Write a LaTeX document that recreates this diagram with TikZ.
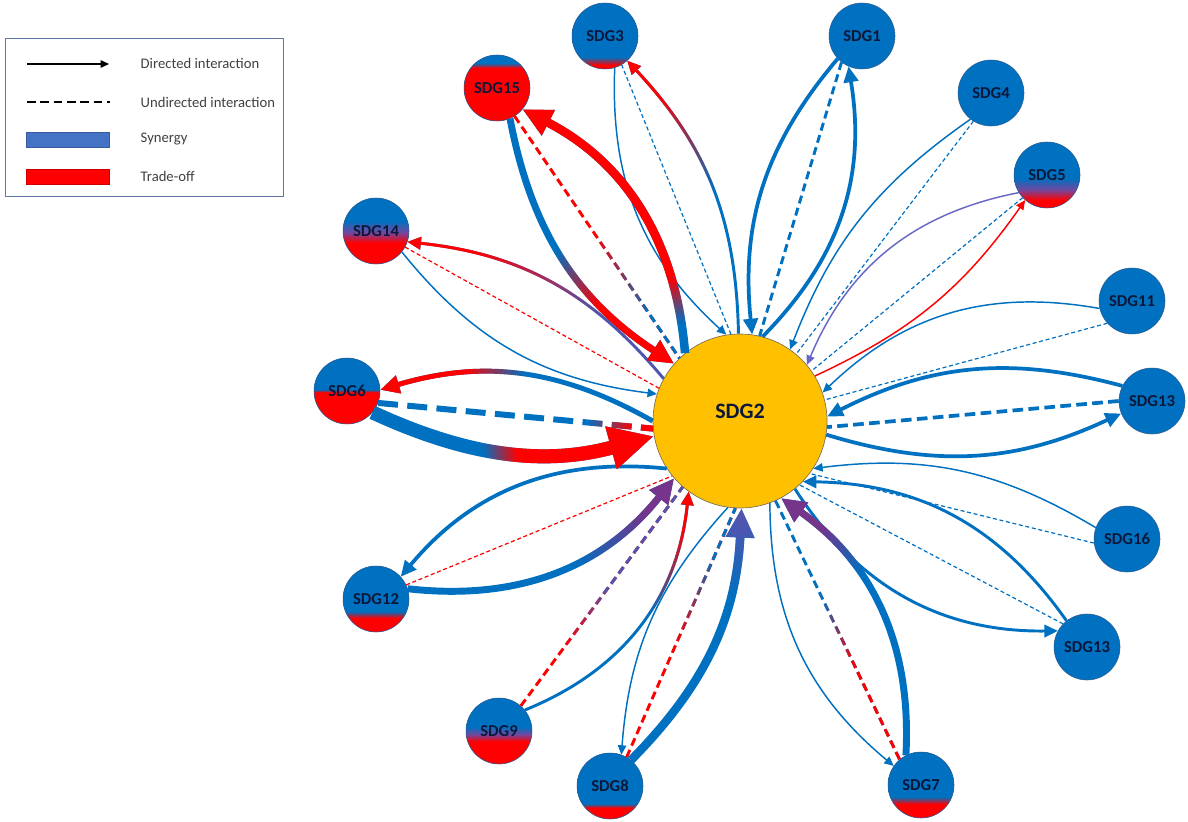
\documentclass[tikz,border=0pt]{standalone}
\usepackage{fontspec}
\setmainfont{Carlito}
\usepackage{tikz}
\usetikzlibrary{arrows.meta,fadings}

\definecolor{sblue}{RGB}{0,112,192}
\definecolor{sred}{RGB}{255,0,0}
\definecolor{sgold}{RGB}{255,192,0}
\definecolor{spurple}{RGB}{118,52,138}
\definecolor{smid}{RGB}{112,72,160}
\definecolor{sindigo}{RGB}{78,86,176}
\definecolor{slav}{RGB}{104,104,196}
\definecolor{snavy}{RGB}{12,24,58}
\definecolor{sedge}{RGB}{46,92,146}
\definecolor{score}{RGB}{120,110,90}
\definecolor{skey}{RGB}{68,114,196}
\definecolor{sframe}{RGB}{96,118,166}
\definecolor{sgrey}{RGB}{64,64,64}

\pgfdeclareverticalshading{mix3}{100bp}{color(0bp)=(sred); color(28bp)=(sred); color(34bp)=(sblue); color(100bp)=(sblue)}
\pgfdeclareverticalshading{mix5}{100bp}{color(0bp)=(sred); color(31bp)=(sred); color(39bp)=(smid); color(47.5bp)=(sblue); color(100bp)=(sblue)}
\pgfdeclareverticalshading{mix6}{100bp}{color(0bp)=(sred); color(49bp)=(sred); color(51bp)=(sblue); color(100bp)=(sblue)}
\pgfdeclareverticalshading{mix7}{100bp}{color(0bp)=(sred); color(35.5bp)=(sred); color(41bp)=(sblue); color(100bp)=(sblue)}
\pgfdeclareverticalshading{mix8}{100bp}{color(0bp)=(sred); color(33.5bp)=(sred); color(36.5bp)=(sblue); color(100bp)=(sblue)}
\pgfdeclareverticalshading{mix9}{100bp}{color(0bp)=(sred); color(42bp)=(sred); color(47.5bp)=(smid); color(53bp)=(sblue); color(100bp)=(sblue)}
\pgfdeclareverticalshading{mix12}{100bp}{color(0bp)=(sred); color(35.5bp)=(sred); color(40.5bp)=(sblue); color(100bp)=(sblue)}
\pgfdeclareverticalshading{mix14}{100bp}{color(0bp)=(sred); color(41bp)=(sred); color(49bp)=(smid); color(57.5bp)=(sblue); color(100bp)=(sblue)}
\pgfdeclareverticalshading{mix15}{100bp}{color(0bp)=(sred); color(65bp)=(sred); color(68.75bp)=(sblue); color(100bp)=(sblue)}

\begin{tikzfadingfrompicture}[name=cut]
  \path (-12,-12) rectangle (12,12);
  \shade[left color=transparent!100,right color=transparent!0] (-1,-12) rectangle (1,12);
  \fill[transparent!0] (1,-12) rectangle (12,12);
\end{tikzfadingfrompicture}

\begin{document}
\begin{tikzpicture}[x=0.75pt,y=-0.75pt,>={Triangle[length=4pt 2.8,width=3.5pt 2.6]},
  goal/.style={circle,minimum size=49.5pt,inner sep=0pt,draw=sedge,line width=0.4pt,fill=sblue,text=snavy,font=\bfseries\fontsize{12.5}{14}\selectfont},
  mixed/.style={goal,shade,shading=#1},
  core/.style={font=\bfseries\fontsize{16.5}{18}\selectfont,text=snavy,yshift=7.5pt},
  l1/.style={line width=1.1pt},
  l2/.style={line width=2.2pt},
  l3/.style={line width=2.8pt},
  l4/.style={line width=3.7pt},
  l5/.style={line width=5.2pt},
  l6/.style={line width=6.4pt},
  l8/.style={line width=10.5pt},
  d1/.style={line width=0.9pt,dash pattern=on 3pt off 2pt},
  d2/.style={line width=2.2pt,dash pattern=on 6pt off 3.5pt},
  d3/.style={line width=2.8pt,dash pattern=on 8pt off 4pt},
  d4/.style={line width=4.5pt,dash pattern=on 15pt off 7pt},
  fadeat/.style n args={3}{path fading=cut,fit fading=false,fading transform={shift={#1},rotate=#2,xscale=#3}},
  keytext/.style={anchor=west,text=sgrey,font=\fontsize{11}{13}\selectfont},
  swatch/.style={minimum width=62pt,minimum height=11pt,inner sep=0pt,line width=0.4pt}]
   \useasboundingbox (0,0) rectangle (1188,821);

   % legend
   \node[draw=sframe,line width=0.6pt,minimum width=208.5pt,minimum height=118.5pt,inner sep=0pt] (key) at (144,117) {};
   \coordinate (a1) at (27,64);
   \coordinate (a2) at (109,64);
   \coordinate (b1) at (27,102);
   \coordinate (b2) at (110,102);
   \draw[->,line width=0.8pt] (a1) -- (a2);
   \draw[line width=0.9pt,dash pattern=on 6.5pt off 3.5pt] (b1) -- (b2);
   \node[swatch,fill=skey,draw=skey!80!black] (syn) at (68,140) {};
   \node[swatch,fill=sred,draw=sred!80!black] (tro) at (68,177) {};
   \node[keytext] (t1) at (136,63) {Directed interaction};
   \node[keytext] (t2) at (136,102) {Undirected interaction};
   \node[keytext] (t3) at (136,139) {Synergy};
   \node[keytext] (t4) at (136,176) {Trade-off};

   \node[circle,minimum size=130.5pt,inner sep=0pt,fill=sgold,draw=score,line width=0.5pt,label={[core]center:SDG2}] (c) at (740,421) {};
   \node[mixed=mix3] (s3) at (605,36) {SDG3};
   \node[goal] (s1) at (862,36) {SDG1};
   \node[goal] (s4) at (991,93) {SDG4};
   \node[mixed=mix5] (s5) at (1047,175) {SDG5};
   \node[goal] (s11) at (1132,301) {SDG11};
   \node[goal] (s13a) at (1152,401) {SDG13};
   \node[goal] (s16) at (1127,539) {SDG16};
   \node[goal] (s13b) at (1087,647) {SDG13};
   \node[mixed=mix7] (s7) at (921,785) {SDG7};
   \node[mixed=mix8] (s8) at (610,786) {SDG8};
   \node[mixed=mix9] (s9) at (499,731) {SDG9};
   \node[mixed=mix12] (s12) at (376,599) {SDG12};
   \node[mixed=mix6] (s6) at (347,391) {SDG6};
   \node[mixed=mix14] (s14) at (376,231) {SDG14};
   \node[mixed=mix15] (s15) at (497,88) {SDG15};

   \path
    (s3.-73) edge[bend right=25,l1,sblue,->] (c.99)
    (s3.-60) edge[d1,sblue] (c.96)
    (c.91) edge[bend right=21,l2,sblue,->] (s3.-48)
    (c.91) edge[bend right=21,l2,sred,->,fadeat={(690,140)}{120}{1.5}] (s3.-48)
    (s1.-137) edge[bend right=23,l3,sblue,->] (c.82)
    (s1.-128) edge[d2,sblue] (c.77)
    (c.75) edge[bend right=27,l3,sblue,->] (s1.-114)
    (s4.-128) edge[bend right=17,l1,sblue,->] (c.55)
    (s4.-122) edge[d1,sblue] (c.50)
    (s5.-148) edge[bend right=28,l1,slav,->] (c.40)
    (s5.-137) edge[d1,sblue] (c.35)
    (c.31) edge[bend right=15,l1,sred,->] (s5.-131)
    (s11.-167) edge[bend right=27,l1,sblue,->] (c.19)
    (s11.-138) edge[d1,sblue] (c.14)
    (s13a.153) edge[bend right=21,l3,sblue,->] (c.3)
    (s13a.180) edge[d3,sblue] (c.-4)
    (c.-9) edge[bend right=21,l3,sblue,->] (s13a.-158)
    (s16.160) edge[bend right=19,l1,sblue,->] (c.-33)
    (s16.-173) edge[d1,sblue] (c.-37)
    (s13b.128) edge[bend right=27,l2,sblue,->] (c.-44)
    (s13b.136) edge[d1,sblue] (c.-47)
    (c.-51) edge[bend right=29,l2,sblue,->] (s13b.151)
    (c.-70) edge[bend right=25,l1,sblue,->] (s7.145)
    (c.-66) edge[d2,sblue] (s7.130)
    (c.-66) edge[d2,sred,fadeat={(840,630)}{-64}{1}] (s7.130)
    (s7.117) edge[bend right=29,l5,sblue,->] (c.-62)
    (s7.117) edge[bend right=29,l5,spurple,->,fadeat={(835,555)}{130}{0.8}] (c.-62)
    (c.-98) edge[bend right=19,l1,sblue,->] (s8.70)
    (s8.60) edge[d2,sred] (c.-93)
    (s8.60) edge[d2,sblue,fadeat={(690,600)}{67}{1.3}] (c.-93)
    (s8.51) edge[bend right=21,l6,sblue,->] (c.-89)
    (s8.51) edge[bend right=21,l6,sindigo,->,fadeat={(740,560)}{90}{1}] (c.-89)
    (s9.49) edge[d2,sred] (c.-131)
    (s9.49) edge[d2,sindigo,fadeat={(590,620)}{54}{1}] (c.-131)
    (s9.39) edge[bend right=31,l2,sblue,->] (c.-126)
    (s9.39) edge[bend right=31,l2,sred,->,fadeat={(665,570)}{70}{1.2}] (c.-126)
    (c.-147) edge[bend right=28,l3,sblue,->] (s12.42)
    (s12.25) edge[d1,sred] (c.-141)
    (s12.18) edge[bend right=29,l5,sblue,->] (c.-139)
    (s12.18) edge[bend right=29,l5,spurple,->,fadeat={(610,540)}{35}{1.2}] (c.-139)
    (c.180) edge[bend right=23,l4,sblue,->] (s6.2)
    (c.180) edge[bend right=23,l4,sred,->,fadeat={(495,375)}{180}{0.8}] (s6.2)
    (s6.-21) edge[d4,sblue] (c.185)
    (s6.-21) edge[d4,sred,fadeat={(610,424)}{0}{0.6}] (c.185)
    (s6.-40) edge[bend right=20,l8,sblue,->] (c.190)
    (s6.-40) edge[bend right=20,l8,sred,->,fadeat={(500,450)}{5}{0.45}] (c.190)
    (s14.-39) edge[bend right=22,l1,sblue,->] (c.162)
    (s14.-29) edge[d1,sred] (c.158)
    (c.151) edge[bend right=22,l2,sindigo,->] (s14.-19)
    (c.151) edge[bend right=22,l2,sred,->,fadeat={(540,275)}{160}{1.8}] (s14.-19)
    (s15.-67) edge[bend right=23,l5,sblue,->] (c.139)
    (s15.-67) edge[bend right=23,l5,sred,->,fadeat={(580,275)}{-45}{0.9}] (c.139)
    (s15.-58) edge[d2,sred] (c.134)
    (s15.-58) edge[d2,sblue,fadeat={(625,270)}{-55}{1.3}] (c.134)
    (c.129) edge[bend right=29,l6,sblue,->] (s15.-40)
    (c.129) edge[bend right=29,l6,sred,->,fadeat={(677,300)}{95}{0.6}] (s15.-40)
    ;
\end{tikzpicture}
\end{document}
